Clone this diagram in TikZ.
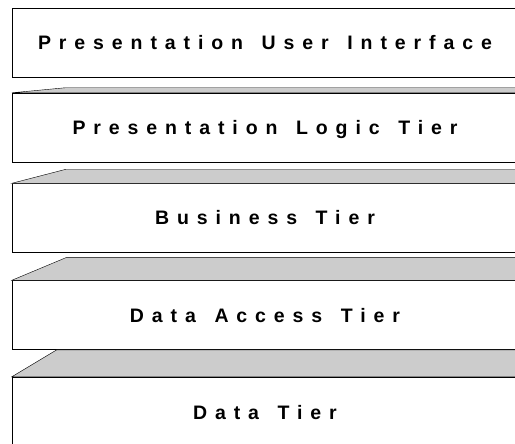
\documentclass[tikz,border=0pt]{standalone}
\usepackage{fontspec}
\newfontfamily\tierfont{Liberation Sans}[LetterSpace=40.5, WordSpace=1.4]
\newcommand{\tierface}{\tierfont\bfseries\fontsize{19.5}{22}\selectfont}
\usetikzlibrary{positioning}
\tikzset{
	x = 1pt,
	y = -1pt,
	line width = .8pt,
	tier/.style={
		draw,
		rectangle,
		fill=white,
		minimum width=506pt,
		minimum height=69pt,
		text height=14pt,
		text depth=0pt,
		font=\tierface
	},
	bevel/.style={
		draw,
		fill=gray!40,
		line join=miter
	}
}

\begin{document}
\begin{tikzpicture}
		\useasboundingbox (0,0) rectangle (515,444);
		\clip (0,0) rectangle (515,444);
		\node[tier] at (265,42.5) (pui) {Presentation User Interface};
		\node[tier] at (265,127.5) (plt) {Presentation Logic Tier};
		\node[tier] at (265,218) (bt) {Business Tier};
		\node[tier] at (265,315) (dat) {Data Access Tier};
		\node[tier, minimum height=70pt] at (265,412) (dt) {Data Tier};
		% top faces
		\foreach \n/\d/\w in {plt/5/53, bt/14/54, dat/23/55, dt/27/45}
			\draw[bevel] (\n.north west) -- ++(\w,-\d) -- ([yshift=\d pt]\n.north east) -- (\n.north east) -- cycle;
	\end{tikzpicture}
\end{document}
